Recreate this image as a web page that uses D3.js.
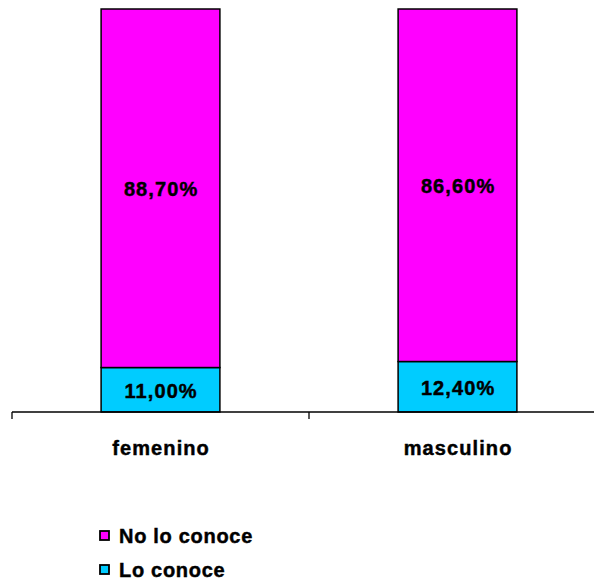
<!DOCTYPE html>
<html><head><meta charset="utf-8">
<script src="https://cdn.jsdelivr.net/npm/d3@7"></script>
<style>body{margin:0;background:#fff}svg{display:block}text{font-family:Arial,"Liberation Sans",sans-serif;font-weight:bold;letter-spacing:1.1px;stroke:#000;stroke-width:0.45px;fill:#000}</style>
</head><body><svg id="c" width="594" height="581"></svg>
<script>
const categories = ["femenino", "masculino"];
const loConoce = [11.00, 12.40];
const noLoConoce = [88.70, 86.60];
const seriesNames = ["No lo conoce", "Lo conoce"];
const colors = {"Lo conoce": "#00CCFF", "No lo conoce": "#FF00FF"};

const svg = d3.select("#c");
const pLeft = 12, pRight = 606, pTop = 9, pBottom = 412;

const data = categories.map((c, i) => ({cat: c, "Lo conoce": loConoce[i], "No lo conoce": noLoConoce[i]}));
const stack = d3.stack().keys(["Lo conoce", "No lo conoce"]).offset(d3.stackOffsetExpand);
const series = stack(data);

const x = d3.scaleBand().domain(categories).range([pLeft, pRight]).paddingInner(0.6).paddingOuter(0.3);
const xb = d3.scaleBand().domain(categories).range([pLeft, pRight]);
const y = d3.scaleLinear().domain([0, 1]).range([pBottom, pTop]);

series.forEach(s => {
  const g = svg.append("g");
  g.selectAll("rect").data(s).enter().append("rect")
    .attr("x", d => x(d.data.cat))
    .attr("width", x.bandwidth())
    .attr("y", d => y(d[1]))
    .attr("height", d => y(d[0]) - y(d[1]))
    .attr("fill", colors[s.key])
    .attr("stroke", "#000").attr("stroke-width", 1.5);
  g.selectAll("text").data(s).enter().append("text")
    .attr("x", d => x(d.data.cat) + x.bandwidth() / 2 + 0.6)
    .attr("y", d => (y(d[0]) + y(d[1])) / 2)
    .attr("dy", "0.4em")
    .attr("text-anchor", "middle")
    .attr("font-size", 20)
    .text(d => d.data[s.key].toFixed(2).replace(".", ",") + "%");
});

// axis
const ax = svg.append("g").attr("transform", `translate(0,${pBottom})`);
ax.append("line").attr("x1", pLeft).attr("x2", pRight).attr("stroke", "#000").attr("stroke-width", 1.3);
const ticks = [pLeft].concat(categories.map(c => xb(c) + xb.bandwidth()));
ax.selectAll(".tk").data(ticks).enter().append("line")
  .attr("x1", d => d).attr("x2", d => d).attr("y1", 0).attr("y2", 7)
  .attr("stroke", "#000").attr("stroke-width", 1.3);
ax.selectAll(".lb").data(categories).enter().append("text")
  .attr("x", d => xb(d) + xb.bandwidth() / 2 + 0.6)
  .attr("y", 43)
  .attr("text-anchor", "middle")
  .attr("font-size", 20)
  .text(d => d);

// legend
const lg = svg.append("g");
seriesNames.forEach((n, i) => {
  const yy = 543 + i * 34;
  lg.append("rect").attr("x", 100).attr("y", yy - 12).attr("width", 9).attr("height", 9)
    .attr("fill", colors[n]).attr("stroke", "#000").attr("stroke-width", 1.8);
  lg.append("text").attr("x", 119).attr("y", yy)
    .attr("font-size", 20).style("letter-spacing", "0.7px").text(n);
});
</script></body></html>
